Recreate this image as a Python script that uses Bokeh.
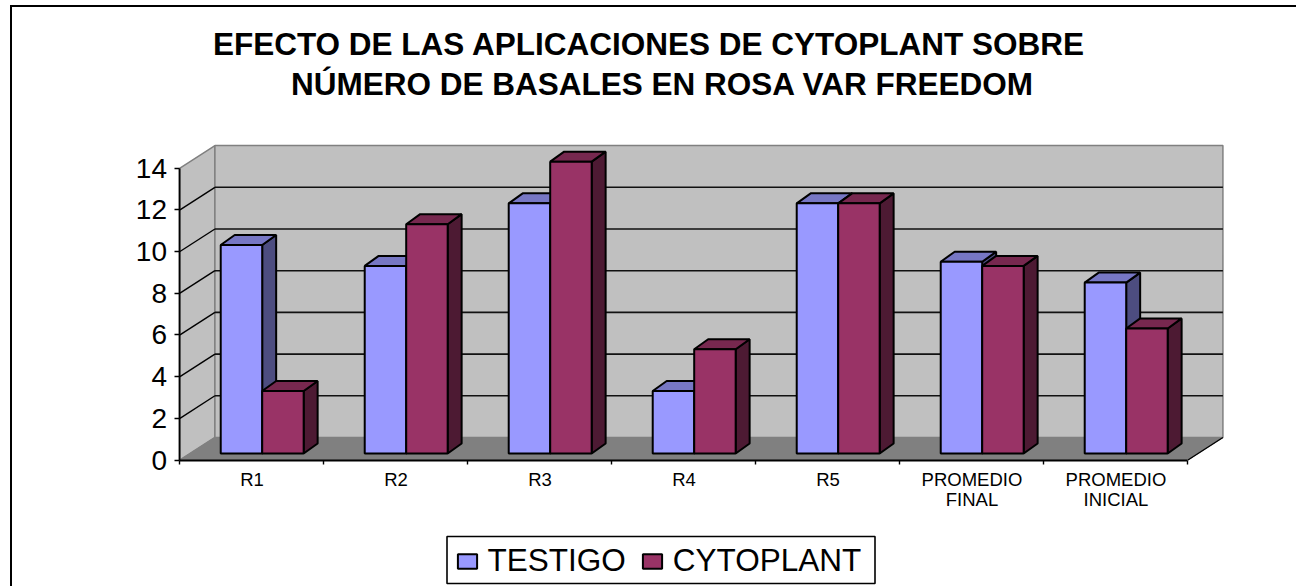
from bokeh.embed import file_html
from bokeh.resources import INLINE
from bokeh.plotting import figure
from bokeh.models import Range1d, FixedTicker, Legend, LegendItem, Label, BoxAnnotation

TITLE_LINES = ["EFECTO DE LAS APLICACIONES DE CYTOPLANT SOBRE",
               "NÚMERO DE BASALES EN ROSA VAR FREEDOM"]
CATEGORIES = ["R1", "R2", "R3", "R4", "R5", "PROMEDIO\nFINAL", "PROMEDIO\nINICIAL"]
TESTIGO = [10, 9, 12, 3, 12, 9.2, 8.2]
CYTOPLANT = [3, 11, 14, 5, 12, 9, 6]
Y_TICKS = [0, 2, 4, 6, 8, 10, 12, 14]
SERIES = [("TESTIGO", TESTIGO, "#9999FF", "#7777C4", "#4D4D80"),
          ("CYTOPLANT", CYTOPLANT, "#993366", "#77284F", "#4D1A33")]

# oblique-projection depth of the 3-D box, in data units
DX, DY = 0.2427, 1.08
BAR_W = 0.288
GAP = 0.213
BAR_X0, BAR_Y0 = 0.07, 0.31      # bar front-face offset inside the box
BAR_DX, BAR_DY = 0.097, 0.48     # bar depth
N = len(CATEGORIES)
YMAX = Y_TICKS[-1]

# the frame fills the whole figure; the axes are pinned at data zero inside it
p = figure(width=1286, height=581, output_backend="svg", toolbar_location=None,
           x_range=Range1d(-1.163, 7.7676), y_range=Range1d(-6.163, 21.703),
           min_border_left=0, min_border_right=0, min_border_top=0, min_border_bottom=0,
           margin=(5, 0, 0, 10),
           styles={"border-left": "2.5px solid #000", "border-top": "2px solid #000"})
p.outline_line_color = None
p.background_fill_color = None
p.grid.visible = False

# walls and floor
p.patch([0, DX, DX, 0], [0, DY, YMAX + DY, YMAX], fill_color="#C0C0C0", line_color="#808080", line_width=1.5)
p.patch([DX, N + DX, N + DX, DX], [DY, DY, YMAX + DY, YMAX + DY], fill_color="#C0C0C0", line_color="#808080", line_width=1.5)
p.patch([0, N, N + DX, DX], [0, 0, DY, DY], fill_color="#808080", line_color="#808080", line_width=1)
p.segment([N], [0], [N + DX], [DY], line_color="#000000", line_width=1.4)

# gridlines: along the back wall and down the side wall
g = Y_TICKS[1:-1]
p.segment([DX] * len(g), [v + DY for v in g], [N + DX] * len(g), [v + DY for v in g], line_color="#111111", line_width=1.6)
p.segment([0] * len(g), g, [DX] * len(g), [v + DY for v in g], line_color="#000000", line_width=1.4)

items = []
for s, (name, vals, face, top, side) in enumerate(SERIES):
    lefts = [i + GAP + BAR_X0 + s * BAR_W for i in range(N)]
    rights = [x + BAR_W for x in lefts]
    tops = [v + BAR_Y0 for v in vals]
    p.patches([[r, r + BAR_DX, r + BAR_DX, r] for r in rights],
              [[BAR_Y0, BAR_Y0 + BAR_DY, t + BAR_DY, t] for t in tops],
              fill_color=side, line_color="#000000", line_width=2)
    p.patches([[l, r, r + BAR_DX, l + BAR_DX] for l, r in zip(lefts, rights)],
              [[t, t, t + BAR_DY, t + BAR_DY] for t in tops],
              fill_color=top, line_color="#000000", line_width=2)
    r = p.quad(left=lefts, right=rights, bottom=[BAR_Y0] * N, top=tops,
               fill_color=face, line_color="#000000", line_width=2)
    items.append(LegendItem(label=name, renderers=[r]))

# axes
ya = p.yaxis[0]
ya.fixed_location = 0
ya.ticker = FixedTicker(ticks=Y_TICKS)
ya.bounds = (0, YMAX)
ya.axis_line_color = "#000000"
ya.axis_line_width = 1.8
ya.major_tick_line_color = "#000000"
ya.major_tick_line_width = 1.4
ya.major_tick_in = 0
ya.major_tick_out = 5
ya.minor_tick_line_color = None
ya.major_label_standoff = 8
ya.major_label_text_font = "Liberation Sans"
ya.major_label_text_font_size = "28px"
ya.major_label_text_color = "#000000"

xa = p.xaxis[0]
xa.fixed_location = 0
centers = [i + 0.5 for i in range(N)]
xa.ticker = FixedTicker(ticks=centers, minor_ticks=list(range(N + 1)))
xa.major_label_overrides = {c: t for c, t in zip(centers, CATEGORIES)}
xa.bounds = (0, N)
xa.axis_line_color = "#000000"
xa.axis_line_width = 1.8
xa.major_tick_line_color = None
xa.major_tick_in = 0
xa.major_tick_out = 0
xa.minor_tick_line_color = "#000000"
xa.minor_tick_line_width = 1.4
xa.minor_tick_in = 0
xa.minor_tick_out = 4
xa.major_label_standoff = 5
xa.major_label_text_font = "Liberation Sans"
xa.major_label_text_font_size = "18.5px"
xa.major_label_text_line_height = 0.95
xa.major_label_text_color = "#000000"

# title
for text, sx, sy in [(TITLE_LINES[0], 636.5, 545), (TITLE_LINES[1], 650, 505)]:
    p.add_layout(Label(x=sx, y=sy, x_units="screen", y_units="screen", text=text,
                       text_align="center", text_baseline="middle",
                       text_font="Liberation Sans", text_font_style="bold",
                       text_font_size="31.5px", text_color="#000000"))

# legend: its own frame is drawn separately so the box can be tighter than the padding
p.add_layout(BoxAnnotation(left=434.5, right=862.5, bottom=5, top=52,
                           left_units="screen", right_units="screen",
                           bottom_units="screen", top_units="screen",
                           fill_color="#FFFFFF", fill_alpha=1,
                           line_color="#000000", line_width=1.6, line_alpha=1))
leg = Legend(items=items, orientation="horizontal", location=(442.5, 9),
             glyph_width=24, glyph_height=18, label_standoff=9, spacing=14,
             padding=5, margin=0, border_line_color=None,
             background_fill_alpha=0,
             label_text_font="Liberation Sans", label_text_font_size="31.5px",
             label_text_color="#000000")
p.add_layout(leg, "center")

open("out.html", "w").write(file_html(p, INLINE))
